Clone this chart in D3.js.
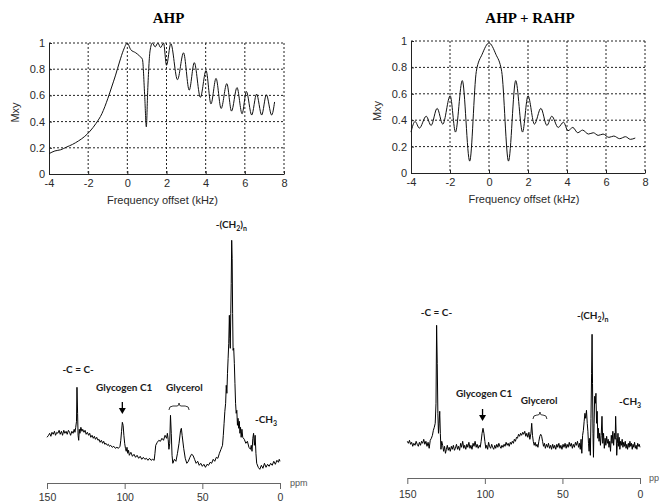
<!DOCTYPE html>
<html>
<head>
<meta charset="utf-8">
<script src="https://cdn.jsdelivr.net/npm/d3@7"></script>
<style>
  body { margin: 0; background: #fff; }
  text { font-family: "Liberation Sans", Arial, sans-serif; }
</style>
</head>
<body>
<div id="chart"></div>
<script>
// frequency response of the pulses (kHz, Mxy)
const ahpFreq = [-4, -3.7, -3.4, -3.1, -2.8, -2.5, -2.2, -1.9, -1.6, -1.3, -1.0, -0.8, -0.6, -0.4, -0.2, 0,
  0.17, 0.43, 0.63, 0.77, 0.89, 0.97, 1.04, 1.16, 1.28, 1.42, 1.56, 1.7, 1.85, 2.0, 2.22, 2.56, 2.87,
  3.16, 3.42, 3.73, 4.02, 4.27, 4.53, 4.79, 5.08, 5.32, 5.6, 5.86, 6.08, 6.35, 6.6, 6.86, 7.1, 7.37, 7.52];
const ahpMxy = [0.155, 0.176, 0.185, 0.206, 0.226, 0.252, 0.284, 0.328, 0.386, 0.46, 0.575, 0.664, 0.755, 0.855, 0.945, 1.0,
  0.95, 0.925, 0.9, 0.875, 0.585, 0.36, 0.636, 0.94, 1.0, 0.97, 1.0, 0.965, 1.0, 0.83, 0.995, 0.72, 0.925,
  0.64, 0.85, 0.585, 0.79, 0.535, 0.73, 0.5, 0.69, 0.48, 0.66, 0.46, 0.63, 0.45, 0.61, 0.45, 0.605, 0.45, 0.55];

const rahpFreq = [-4, -3.79, -3.57, -3.22, -2.97, -2.66, -2.37, -1.99, -1.72, -1.37, -0.99, -0.65, -0.35, 0,
  0.35, 0.65, 1.0, 1.37, 1.72, 2.0, 2.33, 2.66, 2.97, 3.22, 3.55, 3.82, 4.05, 4.3, 4.55, 4.8, 5.1, 5.35,
  5.6, 5.85, 6.15, 6.4, 6.7, 7.0, 7.25, 7.5];
const rahpMxy = [0.31, 0.39, 0.34, 0.43, 0.36, 0.49, 0.37, 0.585, 0.31, 0.70, 0.09, 0.77, 0.9, 0.985,
  0.9, 0.77, 0.09, 0.70, 0.31, 0.585, 0.37, 0.49, 0.36, 0.43, 0.345, 0.385, 0.32, 0.345, 0.305, 0.325, 0.295, 0.305,
  0.285, 0.295, 0.27, 0.28, 0.26, 0.275, 0.255, 0.265];

const freqTicks = [-4, -2, 0, 2, 4, 6, 8];
const mxyTicks = [0, 0.2, 0.4, 0.6, 0.8, 1];
const ppmTicks = [150, 100, 50, 0];

// 13C spectra [ppm, intensity (a.u.)]
const spectrumAHP = [[150,36],[149,38],[148.3,40],[147.5,37],[146.8,41],[146,39],[145.2,42],[144.5,38],[143.7,41],[143,40],
  [142.2,43],[141.5,39],[140.7,42],[140,38],[139.2,43],[138.5,40],[137.7,42],[137,39],[136.2,43],[135.5,41],[134.8,38],
  [134,42],[133.2,40],[132.5,44],[132,41],[131.5,46],[131,52],[130.7,86],[130.3,60],[130,38],[129.6,33],[129.2,44],
  [128.8,40],[128.2,46],[127.5,42],[127,44],[126.2,41],[125.5,43],[124.8,39],[124,41],[123.2,38],[122.5,40],[121.8,36],
  [121,38],[120.2,35],[119.5,37],[118.8,34],[118,36],[117.2,33],[116.5,34],[115.8,31],[115,33],[114.2,30],[113.5,32],
  [112.8,29],[112,30],[111.2,28],[110.5,29],[109.8,27],[109,28],[108,26],[107,27],[106,25],[105,26],[104,25],[103,27],
  [102.5,33],[102,42],[101.5,51],[101,48],[100.5,38],[100,30],[99.5,25],[99,22],[98.5,26],[98,20],[97.5,23],[97,18],
  [96,21],[95,17],[94,19],[93,16],[92,18],[91,15],[90,17],[89,14],[88,16],[87,14],[86,15],[85,13],[84,15],[83,13],
  [82,14],[81,13],[80.5,20],[80,28],[79,31],[78,33],[77,32],[76,35],[75,33],[74,38],[73,35],[72.5,40],[72,34],[71.5,24],
  [71,30],[70.5,58],[70,40],[69.5,18],[69,10],[68,14],[67,12],[66,20],[65,30],[64,43],[63.5,45],[63,38],[62,25],[61,15],
  [60,10],[59,12],[58,16],[57,19],[56,18],[55,14],[54,10],[53,12],[52,8],[51,10],[50,7],[49,9],[48,6],[47,9],[46,8],
  [45,11],[44,10],[43,14],[42,12],[41,16],[40,15],[39,20],[38,24],[37,28],[36.5,38],[36,50],[35.5,62],[35,70],[34.6,88],
  [34.2,80],[33.8,100],[33.4,115],[33,130],[32.6,158],[32.3,135],[32,125],[31.7,160],[31.4,190],[31.1,233],[30.8,215],
  [30.5,160],[30.2,123],[29.8,125],[29.4,110],[29,90],[28.6,70],[28.2,60],[27.8,63],[27.4,48],[27,55],[26.6,45],
  [26.2,52],[25.8,40],[25.4,46],[25,36],[24.5,44],[24,36],[23,34],[22,30],[21,32],[20,26],[19,24],[18.5,28],[18,22],
  [17.5,35],[17,40],[16.5,28],[16,38],[15.5,20],[15,10],[14,6],[13,4],[12,8],[11,5],[10,10],[9,6],[8,9],[7,7],[6,10],
  [5,8],[4,12],[3,9],[2,13],[1,11],[0.5,14],[0,12]];

const spectrumRAHP = [[150,22],[149.3,20],[148.6,23],[147.9,19],[147.2,21],[146.5,17],[145.8,20],[145,18],[144.3,22],
  [143.6,19],[142.9,17],[142.2,21],[141.5,18],[140.8,22],[140.1,20],[139.4,24],[138.7,19],[138,22],[137.3,17],[136.6,21],
  [135.9,15],[135.2,23],[134.5,25],[133.8,28],[133.2,33],[132.6,36],[132,40],[131.5,60],[131.1,138],[130.7,100],[130.3,50],
  [129.9,30],[129.5,40],[129.1,52],[128.7,30],[128.3,14],[127.8,22],[127.2,18],[126.6,12],[126,17],[125.4,10],[124.8,14],
  [124.2,18],[123.6,13],[123,16],[122.3,12],[121.6,17],[121,14],[120.3,18],[119.6,13],[119,15],[118.3,19],[117.6,14],
  [117,17],[116.3,13],[115.6,20],[115,16],[114.3,22],[113.6,15],[113,18],[112.3,14],[111.6,19],[111,16],[110.3,21],
  [109.6,15],[109,18],[108.3,14],[107.6,20],[107,17],[106.3,22],[105.6,16],[105,19],[104.3,15],[103.6,18],[103,16],
  [102.4,22],[101.8,30],[101.2,35],[100.6,30],[100,22],[99.4,15],[98.8,18],[98.2,14],[97.6,21],[97,17],[96.3,15],
  [95.6,19],[95,16],[94.3,14],[93.6,18],[93,15],[92.3,19],[91.6,16],[91,20],[90.3,17],[89.6,15],[89,18],[88.3,16],
  [87.6,19],[87,17],[86.3,21],[85.6,18],[85,20],[84.3,17],[83.6,21],[83,19],[82.3,22],[81.6,20],[81,24],[80.3,22],
  [79.6,26],[79,25],[78.3,29],[77.6,27],[77,30],[76.3,28],[75.6,31],[75,29],[74.3,32],[73.6,27],[73,30],[72.3,26],
  [71.6,31],[71,24],[70.3,30],[69.8,40],[69.3,28],[68.8,22],[68.2,18],[67.6,21],[67,17],[66.4,19],[65.8,16],[65.2,22],
  [64.6,27],[64,29],[63.4,27],[62.8,22],[62.2,17],[61.6,20],[61,15],[60.3,19],[59.6,16],[59,20],[58.3,15],[57.6,18],
  [57,14],[56.3,19],[55.6,15],[55,18],[54.3,14],[53.6,19],[53,16],[52.3,20],[51.6,15],[51,18],[50.3,14],[49.6,19],
  [49,16],[48.3,20],[47.6,15],[47,19],[46.3,16],[45.6,21],[45,17],[44.3,20],[43.6,15],[43,19],[42.3,16],[41.6,21],
  [41,18],[40.3,22],[39.6,16],[39,20],[38.5,14],[38,24],[37.5,10],[37,28],[36.5,33],[36,42],[35.5,50],[35,45],[34.5,53],
  [34,40],[33.6,32],[33.2,20],[32.8,12],[32.4,25],[32,8],[31.6,45],[31.2,90],[30.9,129],[30.6,80],[30.3,30],[30,6],
  [29.6,40],[29.2,67],[28.8,60],[28.4,70],[28,40],[27.6,52],[27.2,25],[26.8,35],[26.4,22],[26,30],[25.5,18],[25,28],
  [24.5,47],[24,20],[23.5,30],[23,15],[22.5,25],[22,18],[21.5,27],[21,20],[20.5,24],[20,16],[19.5,22],[19,12],[18.5,28],
  [18,20],[17.5,32],[17,18],[16.5,30],[16,24],[15.7,47],[15.3,26],[15,8],[14.6,20],[14.2,30],[13.8,17],[13.4,26],[13,14],
  [12.5,22],[12,18],[11.5,24],[11,16],[10.5,21],[10,17],[9.5,22],[9,15],[8.5,19],[8,14],[7.5,20],[7,16],[6.5,22],[6,17],
  [5.5,20],[5,14],[4.5,19],[4,16],[3.5,21],[3,15],[2.5,18],[2,14],[1.5,20],[1,17],[0.5,19],[0,16]];

const svg = d3.select('#chart').append('svg')
  .attr('width', 660).attr('height', 504)
  .style('background', '#fff');

// plain hyphen for negatives, like the original
const fmtTick = d => (d < 0 ? '-' + Math.abs(d) : String(d));

// MATLAB-like response panel
function responsePanel(title, freq, mxy, left, right, top, bottom) {
  const x = d3.scaleLinear().domain([-4, 8]).range([left, right]);
  const y = d3.scaleLinear().domain([0, 1]).range([bottom, top]);
  const g = svg.append('g');

  // dotted grid
  g.selectAll('line.vx').data(freqTicks.slice(1)).join('line')
    .attr('x1', d => x(d)).attr('x2', d => x(d)).attr('y1', top).attr('y2', bottom)
    .attr('stroke', '#222').attr('stroke-dasharray', '2,2').attr('stroke-width', 1);
  g.selectAll('line.hy').data(mxyTicks.slice(1)).join('line')
    .attr('x1', left).attr('x2', right).attr('y1', d => y(d)).attr('y2', d => y(d))
    .attr('stroke', '#222').attr('stroke-dasharray', '2,2').attr('stroke-width', 1);

  const xAxis = g.append('g').attr('transform', `translate(0,${bottom})`)
    .call(d3.axisBottom(x).tickValues(freqTicks).tickSize(-3).tickSizeOuter(0).tickPadding(5).tickFormat(fmtTick));
  const yAxis = g.append('g').attr('transform', `translate(${left},0)`)
    .call(d3.axisLeft(y).tickValues(mxyTicks).tickSize(-3).tickSizeOuter(0).tickPadding(4)
      .tickFormat(d => d === 0 || d === 1 ? d : d.toFixed(1)));
  [xAxis, yAxis].forEach(a => {
    a.selectAll('text').attr('font-size', 11).attr('fill', '#2a2a2a');
    a.select('.domain').attr('stroke', '#222');
    a.selectAll('.tick line').attr('stroke', '#222');
  });

  const line = d3.line().x(d => x(d[0])).y(d => y(d[1])).curve(d3.curveMonotoneX);
  g.append('path').datum(d3.zip(freq, mxy))
    .attr('d', line).attr('fill', 'none').attr('stroke', '#111').attr('stroke-width', 1);

  g.append('text').attr('x', (left + right) / 2 + 2).attr('y', 23)
    .attr('text-anchor', 'middle')
    .style('font-family', '"Liberation Serif", "Times New Roman", serif')
    .attr('font-weight', 'bold').attr('font-size', 15).text(title);

  g.append('text').attr('x', (left + right) / 2 - 4).attr('y', bottom + 30)
    .attr('text-anchor', 'middle').attr('font-size', 11).attr('fill', '#2a2a2a')
    .text('Frequency offset (kHz)');

  g.append('text').attr('transform', `translate(${left - 30},${(top + bottom) / 2 + 4}) rotate(-90)`)
    .attr('text-anchor', 'middle').attr('font-size', 11).attr('fill', '#2a2a2a').text('Mxy');
}

responsePanel('AHP', ahpFreq, ahpMxy, 49, 284, 43, 174);
responsePanel('AHP + RAHP', rahpFreq, rahpMxy, 411, 645, 41, 173);

// spectrum panel with annotations
function spectrumPanel(data, left, right, axisY, y0, ymax, yTop, labels) {
  const x = d3.scaleLinear().domain([150, 0]).range([left, right]);
  const y = d3.scaleLinear().domain([0, ymax]).range([y0, yTop]);
  const g = svg.append('g');

  const ax = g.append('g').attr('transform', `translate(0,${axisY})`)
    .call(d3.axisBottom(x).tickValues(ppmTicks).tickSize(6).tickSizeOuter(0).tickPadding(labels.pad));
  ax.select('.domain').attr('stroke', '#666');
  ax.selectAll('.tick line').attr('stroke', '#666');
  ax.selectAll('text').attr('font-size', 10.5).attr('fill', '#333');

  // unit label (the right panel only shows "pp" in the original)
  g.append('text').attr('x', labels.unitX).attr('y', axisY + 3)
    .attr('font-size', 9).attr('fill', '#555').text(labels.unit);

  g.append('path').datum(data)
    .attr('d', d3.line().x(d => x(d[0])).y(d => y(d[1])))
    .attr('fill', 'none').attr('stroke', '#000').attr('stroke-width', 1);

  const lab = (ppm, yy, anchor) => g.append('text')
    .attr('x', x(ppm)).attr('y', yy).attr('text-anchor', anchor)
    .style('font-family', 'Lato, "Open Sans", sans-serif')
    .attr('font-weight', 'bold').attr('font-size', 10).attr('fill', '#1a1a1a');

  lab(labels.cc[0], labels.cc[1], 'middle').text('-C = C-');
  lab(labels.gly[0], labels.gly[1], 'middle').text('Glycogen C1');
  lab(labels.glc[0], labels.glc[1], 'middle').text('Glycerol');
  const ch2 = lab(labels.ch2[0], labels.ch2[1], 'middle');
  ch2.append('tspan').text('-(CH');
  ch2.append('tspan').attr('font-size', 7).attr('dy', 3).text('2');
  ch2.append('tspan').attr('dy', -3).text(')');
  ch2.append('tspan').attr('font-size', 7).attr('dy', 3).text('n');
  const ch3 = lab(labels.ch3[0], labels.ch3[1], 'start');
  ch3.append('tspan').text('-CH');
  ch3.append('tspan').attr('font-size', 7).attr('dy', 3).text('3');

  // arrow to glycogen peak
  const ax0 = x(labels.arrow[0]), ay = labels.arrow[1];
  g.append('line').attr('x1', ax0).attr('x2', ax0).attr('y1', ay).attr('y2', ay + 7)
    .attr('stroke', '#000').attr('stroke-width', 1.3);
  g.append('path').attr('d', `M${ax0 - 3.5},${ay + 6}L${ax0 + 3.5},${ay + 6}L${ax0},${ay + 12}Z`).attr('fill', '#000');

  // brace over glycerol
  const b0 = x(labels.brace[0]), b1 = x(labels.brace[1]), bm = (b0 + b1) / 2, by = labels.brace[2];
  g.append('path')
    .attr('d', `M${b0},${by + 5}Q${b0},${by + 1} ${b0 + 4},${by + 1}L${bm - 2},${by + 1}Q${bm},${by + 1} ${bm},${by - 2}` +
      `Q${bm},${by + 1} ${bm + 2},${by + 1}L${b1 - 4},${by + 1}Q${b1},${by + 1} ${b1},${by + 5}`)
    .attr('fill', 'none').attr('stroke', '#333').attr('stroke-width', 1);
}

spectrumPanel(spectrumAHP, 47, 280, 483, 473.3, 240, 233.3, {
  pad: 5, unit: 'ppm', unitX: 290, cc: [130, 373], gly: [100.3, 391], glc: [61.5, 391], ch2: [31.3, 228], ch3: [16.1, 423],
  arrow: [101.5, 402], brace: [71.5, 58.5, 405]
});
spectrumPanel(spectrumRAHP, 407.3, 640, 478, 463.3, 150, 313.3, {
  pad: 7, unit: 'pp', unitX: 649, cc: [131.2, 316], gly: [100.5, 397], glc: [65, 404], ch2: [30.5, 319], ch3: [13.5, 405],
  arrow: [101.5, 409], brace: [69, 60, 414]
});
</script>
</body>
</html>
